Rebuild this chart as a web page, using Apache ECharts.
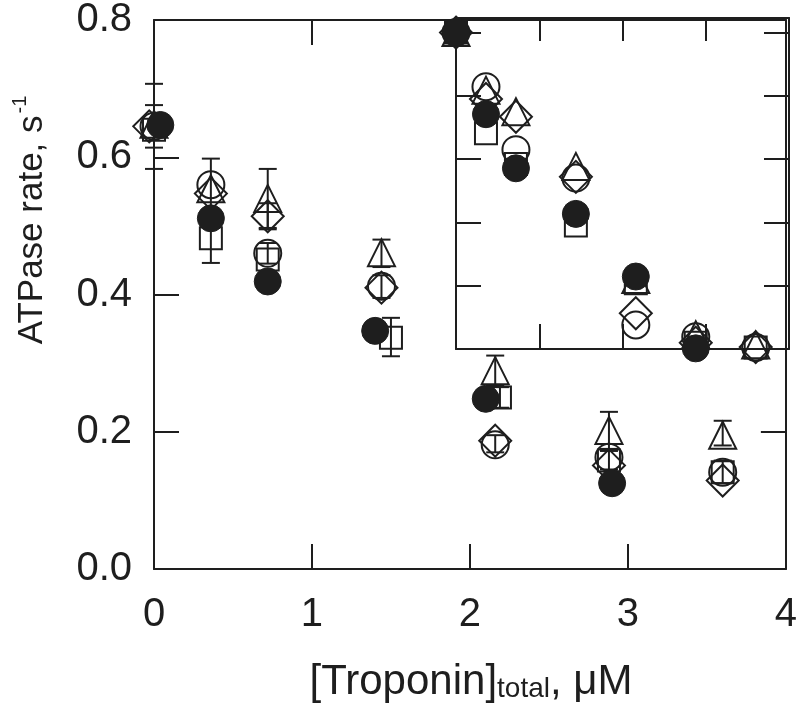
<!DOCTYPE html>
<html>
<head>
<meta charset="utf-8">
<script src="https://cdn.jsdelivr.net/npm/echarts@6/dist/echarts.min.js"></script>
<style>
html,body{margin:0;padding:0;background:#fff;}
#chart{width:800px;height:720px;}
</style>
</head>
<body>
<div id="chart"></div>
<script>
// ---------- data ----------
// main panel: ATPase rate (s^-1) vs [Troponin]total (uM)
var mainOpenCircle = [[0,0.645],[0.36,0.560],[0.72,0.460],[1.44,0.412],[2.16,0.181],[2.88,0.163],[3.6,0.141]];
var mainSquare     = [[0,0.640],[0.36,0.482],[0.72,0.451],[1.50,0.337],[2.19,0.250],[2.88,0.158],[3.6,0.141]];
var mainTriangle   = [[0,0.648],[0.36,0.554],[0.72,0.540],[1.44,0.461],[2.16,0.289],[2.88,0.202],[3.6,0.195]];
var mainDiamond    = [[-0.03,0.645],[0.36,0.547],[0.72,0.514],[1.44,0.410],[2.16,0.187],[2.88,0.151],[3.6,0.129]];
var mainFilled     = [[0.04,0.647],[0.36,0.511],[0.72,0.419],[1.40,0.347],[2.10,0.248],[2.90,0.125]];
// error bars: [x, low, high]
var mainErrors = [
  [0,0.583,0.707],[0,0.614,0.676],
  [0.36,0.510,0.598],[0.36,0.446,0.518],
  [0.72,0.497,0.583],[0.72,0.495,0.533],[0.72,0.445,0.475],
  [1.44,0.440,0.480],[1.44,0.395,0.428],[1.50,0.310,0.366],
  [2.16,0.267,0.311],[2.16,0.170,0.195],[2.19,0.235,0.265],
  [2.88,0.175,0.229],[2.88,0.145,0.172],
  [3.6,0.180,0.216],[3.6,0.125,0.158]
];
// inset panel: normalised rate vs [Troponin]total
var insetOpenCircle = [[0,1.0],[0.36,0.829],[0.72,0.630],[1.44,0.540],[2.16,0.076],[2.88,0.039],[3.6,0.005]];
var insetSquare     = [[0,1.0],[0.36,0.682],[0.72,0.585],[1.44,0.390],[2.16,0.208],[2.88,0.020],[3.6,0.005]];
var insetTriangle   = [[0,1.0],[0.36,0.818],[0.72,0.750],[1.44,0.577],[2.16,0.220],[2.88,0.045],[3.6,0.013]];
var insetDiamond    = [[0,1.0],[0.36,0.790],[0.72,0.734],[1.44,0.544],[2.16,0.113],[2.88,0.020],[3.6,0.006]];
var insetFilled     = [[0,1.0],[0.36,0.742],[0.72,0.571],[1.44,0.427],[2.16,0.229],[2.88,0.002]];

var xTicks = [0,1,2,3,4];
var yTicks = [0,0.2,0.4,0.6,0.8];
var insetYTicks = [0.2,0.4,0.6,0.8,1.0];

// ---------- style ----------
var INK = '#1e1e1e';
var FONT = '"Liberation Sans", Arial, Helvetica, sans-serif';

var chart = echarts.init(document.getElementById('chart'), null, {renderer:'canvas'});

function axisBase(extra){
  var o = {
    type:'value',
    axisLine:{show:true, onZero:false, lineStyle:{color:INK, width:2}},
    axisTick:{show:true, inside:true, length:25, lineStyle:{color:INK, width:2}},
    axisLabel:{show:false},
    splitLine:{show:false}
  };
  for (var k in extra) o[k] = extra[k];
  return o;
}

var openStyle = {color:'rgba(255,255,255,0)', borderColor:INK, borderWidth:2, opacity:1};
var filledStyle = {color:INK, borderColor:INK, borderWidth:1, opacity:1};

function scatter(data, sym, size, style, xi, yi, z){
  return {
    type:'scatter', data:data, symbol:sym, symbolSize:size,
    xAxisIndex:xi, yAxisIndex:yi, itemStyle:style, clip:false,
    z:z, silent:true, animation:false
  };
}

var option = {
  animation:false,
  backgroundColor:'#fff',
  grid:[
    {left:154, top:18, width:635, height:551},
    {left:456, top:18, width:333, height:331}
  ],
  xAxis:[
    axisBase({gridIndex:0, position:'bottom', min:0, max:4, interval:1,
      axisLabel:{show:true, fontSize:40, fontFamily:FONT, color:INK, margin:26,
        customValues:xTicks}}),
    axisBase({gridIndex:0, position:'top', min:0, max:4, interval:1,
      axisTick:{show:true, inside:true, length:25, lineStyle:{color:INK,width:2}, customValues:[1]}}),
    axisBase({gridIndex:1, position:'bottom', min:0, max:4, interval:1,
      axisTick:{show:true, inside:true, length:25, lineStyle:{color:INK,width:2}, customValues:[1,2,3]}}),
    axisBase({gridIndex:1, position:'top', min:0, max:4, interval:1,
      axisTick:{show:true, inside:true, length:23, lineStyle:{color:INK,width:2}, customValues:[1,2,3]}})
  ],
  yAxis:[
    axisBase({gridIndex:0, position:'left', min:0, max:0.8, interval:0.2,
      axisTick:{show:true, inside:true, length:25, lineStyle:{color:INK,width:2}, customValues:[0.2,0.4,0.6]},
      axisLabel:{show:true, fontSize:40, fontFamily:FONT, color:INK, margin:22,
        customValues:yTicks, formatter:function(v){return v.toFixed(1);}}}),
    axisBase({gridIndex:0, position:'right', min:0, max:0.8, interval:0.2,
      axisTick:{show:true, inside:true, length:25, lineStyle:{color:INK,width:2}, customValues:[0.2]}}),
    axisBase({gridIndex:1, position:'left', min:0, max:1.046, interval:0.2,
      axisTick:{show:true, inside:true, length:25, lineStyle:{color:INK,width:2}, customValues:insetYTicks}}),
    axisBase({gridIndex:1, position:'right', min:0, max:1.046, interval:0.2,
      axisTick:{show:true, inside:true, length:25, lineStyle:{color:INK,width:2}, customValues:insetYTicks}})
  ],
  graphic:[
    {type:'text', x:30, y:220, rotation:Math.PI/2, z:10,
      style:{text:'{a|ATPase rate, s}{s|-1}', align:'center', verticalAlign:'middle',
        fill:INK,
        rich:{
          a:{fontSize:35, fontFamily:FONT, fill:INK, lineHeight:40, verticalAlign:'bottom'},
          s:{fontSize:20, fontFamily:FONT, fill:INK, lineHeight:40, verticalAlign:'top', padding:[0,0,16,2]}
        }}},
    {type:'text', x:471, y:680, z:10,
      style:{text:'{a|[Troponin]}{b|total}{a|, μM}', align:'center', verticalAlign:'middle',
        fill:INK,
        rich:{
          a:{fontSize:42, fontFamily:FONT, fill:INK, lineHeight:46, verticalAlign:'bottom'},
          b:{fontSize:28, fontFamily:FONT, fill:INK, lineHeight:46, verticalAlign:'bottom', padding:[14,0,0,0]}
        }}}
  ],
  series:[
    {
      type:'custom', xAxisIndex:0, yAxisIndex:0, data:mainErrors, clip:false, z:1, silent:true,
      encode:{x:0, y:[1,2]},
      renderItem:function(params, api){
        var x = api.value(0), lo = api.value(1), hi = api.value(2);
        var a = api.coord([x, lo]), b = api.coord([x, hi]);
        var w = 9;
        var st = {stroke:INK, lineWidth:2, fill:null};
        return {type:'group', children:[
          {type:'line', shape:{x1:a[0], y1:a[1], x2:b[0], y2:b[1]}, style:st},
          {type:'line', shape:{x1:a[0]-w, y1:a[1], x2:a[0]+w, y2:a[1]}, style:st},
          {type:'line', shape:{x1:b[0]-w, y1:b[1], x2:b[0]+w, y2:b[1]}, style:st}
        ]};
      }
    },
    scatter(mainOpenCircle, 'circle', 27, openStyle, 0, 0, 2),
    scatter(mainSquare, 'rect', 22, openStyle, 0, 0, 2),
    scatter(mainTriangle, 'triangle', 27, openStyle, 0, 0, 2),
    scatter(mainDiamond, 'diamond', 32, openStyle, 0, 0, 2),
    scatter(mainFilled, 'circle', 27, filledStyle, 0, 0, 3),
    scatter(insetOpenCircle, 'circle', 27, openStyle, 2, 2, 4),
    scatter(insetSquare, 'rect', 22, openStyle, 2, 2, 4),
    scatter(insetTriangle, 'triangle', 27, openStyle, 2, 2, 4),
    scatter(insetDiamond, 'diamond', 32, openStyle, 2, 2, 4),
    scatter(insetFilled, 'circle', 27, filledStyle, 2, 2, 5)
  ]
};
chart.setOption(option);
</script>
</body>
</html>
